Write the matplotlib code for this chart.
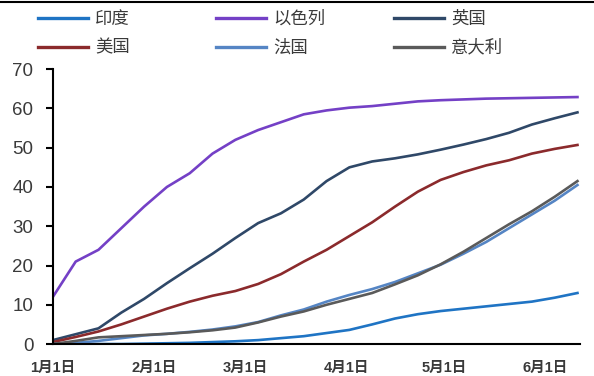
import matplotlib
matplotlib.use("Agg")
import matplotlib.pyplot as plt
from matplotlib.lines import Line2D
import pandas as pd

# Weekly observations, doses per 100 people, 2021
dates = pd.date_range("2021-01-01", periods=24, freq="7D")

india = [0, 0, 0, 0, 0.1, 0.2, 0.3, 0.5, 0.7, 1.0, 1.5, 2.0,
         2.8, 3.6, 5.0, 6.5, 7.6, 8.4, 9.0, 9.6, 10.2, 10.8, 11.8, 13.0]
israel = [12, 21, 24, 29.5, 35, 40, 43.5, 48.5, 52, 54.5, 56.5, 58.5,
          59.5, 60.2, 60.6, 61.2, 61.8, 62.1, 62.3, 62.5, 62.6, 62.7, 62.8, 62.9]
uk = [1, 2.5, 4, 8, 11.5, 15.5, 19.3, 23, 27, 30.8, 33.3, 36.8,
      41.5, 45, 46.5, 47.3, 48.3, 49.5, 50.8, 52.2, 53.8, 55.9, 57.5, 59]
usa = [0.5, 1.8, 3.2, 5, 7, 9, 10.8, 12.3, 13.5, 15.3, 17.8, 21,
       24, 27.5, 31, 35, 38.8, 41.8, 43.8, 45.5, 46.8, 48.5, 49.7, 50.7]
france = [0, 0.3, 0.8, 1.5, 2.2, 2.6, 3.1, 3.7, 4.5, 5.6, 7.3, 8.8,
          10.8, 12.5, 14, 15.8, 18, 20.2, 23, 26, 29.5, 33, 36.5, 40.5]
italy = [0, 0.8, 1.7, 2.0, 2.3, 2.6, 3.0, 3.5, 4.2, 5.5, 7, 8.3,
         10, 11.5, 13, 15.2, 17.5, 20.3, 23.5, 27, 30.5, 33.8, 37.5, 41.5]

names = ["印度", "以色列", "英国", "美国", "法国", "意大利"]
series = [india, israel, uk, usa, france, italy]
colors = ["#1f74c4", "#7440c6", "#2f4868", "#8b2a2c", "#5585c4", "#5a5a5a"]

xtick_dates = pd.to_datetime(["2021-01-01", "2021-02-01", "2021-03-01",
                              "2021-04-01", "2021-05-01", "2021-06-01"])
xtick_labels = ["1月1日", "2月1日", "3月1日", "4月1日", "5月1日", "6月1日"]

fig = plt.figure(figsize=(5.94, 3.76), dpi=100)
ax = fig.add_axes([0.089, 0.085, 0.887, 0.731])

handles = []
for vals, col, name in zip(series, colors, names):
    (h,) = ax.plot(dates, vals, color=col, lw=1.9, label=name,
                   solid_joinstyle="round")
    handles.append(h)

ax.set_ylim(0, 70)
ax.set_yticks(range(0, 71, 10))
ax.set_xlim(pd.Timestamp("2021-01-01"), pd.Timestamp("2021-01-01") + pd.Timedelta(days=161.7))
ax.set_xticks(xtick_dates)
ax.set_xticklabels(xtick_labels)

for s in ["top", "right"]:
    ax.spines[s].set_visible(False)
for s in ["left", "bottom"]:
    ax.spines[s].set_linewidth(1.5)
    ax.spines[s].set_color("black")

ax.tick_params(axis="y", length=5, width=1.5, pad=9, labelsize=13.5,
               labelcolor="#3a3a3a")
for t in ax.get_yticklabels():
    t.set_family(["Liberation Sans", "DejaVu Sans"])
ax.tick_params(axis="x", length=0, pad=12, labelsize=10.5, labelcolor="#3a3a3a")
for t in ax.get_xticklabels():
    t.set_family(["Liberation Sans", "Noto Sans CJK SC"])
    t.set_fontweight("bold")

# Legend: three columns placed individually
cols = [(handles[0], handles[3]), (handles[1], handles[4]), (handles[2], handles[5])]
col_x = [38, 216, 394]
for (h1, h2), x in zip(cols, col_x):
    leg = fig.legend(handles=[h1, h2], loc="upper left",
                     bbox_to_anchor=(x / 594, 1 - 10 / 376), frameon=False,
                     borderpad=0, borderaxespad=0, handlelength=2.9,
                     handletextpad=0.4, labelspacing=0.62,
                     prop={"family": ["Noto Sans CJK SC", "DejaVu Sans"], "size": 12.5},
                     labelcolor="#3a3a3a")
    for ln in leg.get_lines():
        ln.set_linewidth(2.4)

fig.add_artist(Line2D([0, 1], [1 - 1.5 / 376, 1 - 1.5 / 376],
                      transform=fig.transFigure, color="black", lw=1.5))

fig.savefig("out.png", dpi=100)
